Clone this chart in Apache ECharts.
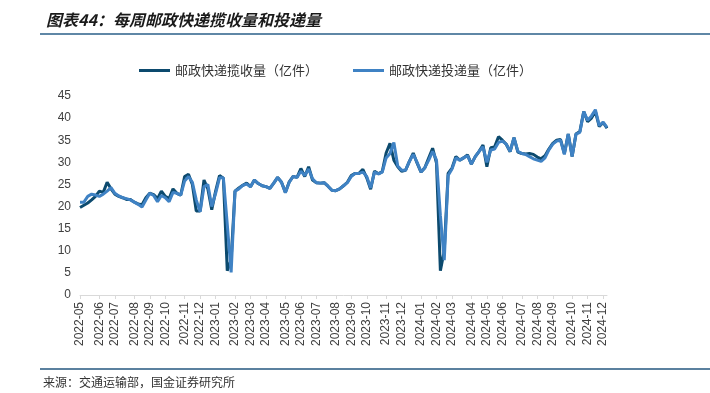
<!DOCTYPE html>
<html>
<head>
<meta charset="utf-8">
<script src="https://cdn.jsdelivr.net/npm/echarts@6/dist/echarts.min.js"></script>
<style>
  html, body { margin: 0; padding: 0; background: #fff; }
  #chart { width: 710px; height: 393px; }
</style>
</head>
<body>
<div id="chart"></div>
<script>
    'use strict';

    // 周数据起点（每周一个点）
    var firstWeek = '2022-05-01';
    var weekCount = 137;

    // 邮政快递揽收量（亿件）
    var pickupData = [
        19.8, 20.3, 20.8, 21.5, 22.3, 23.5, 23.2, 25.5, 24.0, 22.8,
        22.3, 22.0, 21.6, 21.6, 21.0, 20.6, 20.4, 22.0, 23.0, 22.7,
        21.8, 23.5, 22.3, 21.8, 24.0, 23.0, 22.6, 26.8, 27.3, 25.0,
        19.0, 19.0, 26.0, 24.0, 19.3, 23.5, 27.0, 26.4, 5.5, 8.0,
        23.5, 24.2, 24.8, 25.3, 24.5, 26.0, 25.2, 24.7, 24.5, 24.1,
        25.3, 26.6, 25.5, 23.2, 25.6, 26.8, 26.6, 28.6, 26.8, 29.0,
        26.0, 25.4, 25.3, 25.4, 24.6, 23.7, 23.6, 24.0, 24.7, 25.5,
        27.0, 27.5, 27.5, 28.4, 26.5, 23.9, 28.0, 27.4, 27.9, 32.1,
        34.3, 30.5, 29.0, 28.0, 28.2, 30.2, 32.1, 29.8, 27.8, 28.8,
        31.0, 33.2, 29.8, 5.5, 10.0, 27.5, 28.7, 31.3, 30.5, 31.0,
        31.7, 29.6, 31.3, 32.5, 33.9, 29.0, 33.3, 33.5, 35.8, 35.0,
        34.1, 32.4, 35.6, 32.3, 32.0, 31.9, 32.0, 31.8, 31.2, 30.8,
        31.5, 33.0, 34.3, 35.0, 35.2, 32.0, 36.4, 31.3, 36.4, 37.0,
        41.5, 39.2, 40.0, 41.5, 38.1, 39.0, 37.7
    ];

    // 邮政快递投递量（亿件）
    var deliveryData = [
        21.0, 21.0, 22.3, 22.8, 22.6, 22.3, 22.8, 23.5, 24.3, 23.0,
        22.4, 22.0, 21.8, 21.5, 21.0, 20.5, 19.9, 21.5, 23.0, 22.5,
        21.1, 22.5, 22.0, 21.1, 23.2, 23.0, 22.6, 25.8, 26.8, 25.5,
        21.5, 18.8, 24.5, 25.0, 20.0, 23.0, 26.5, 26.5, 16.0, 5.1,
        23.5, 24.0, 24.8, 25.1, 24.5, 26.0, 25.2, 24.7, 24.5, 24.1,
        25.3, 26.6, 25.5, 23.1, 25.5, 26.8, 26.6, 28.0, 27.0, 28.5,
        26.3, 25.4, 25.3, 25.4, 24.6, 23.7, 23.6, 24.0, 24.7, 25.4,
        26.8, 27.5, 27.5, 27.8, 26.8, 24.2, 27.8, 27.4, 27.8, 31.0,
        32.0, 34.5, 29.2, 28.2, 28.2, 30.2, 31.8, 30.0, 27.8, 28.8,
        30.5, 32.5, 30.5, 18.0, 7.9, 27.0, 28.5, 31.0, 30.5, 31.0,
        31.5, 29.6, 31.3, 32.5, 33.5, 30.0, 32.8, 33.0, 34.5, 34.8,
        34.1, 32.5, 35.6, 32.5, 32.0, 31.8, 31.3, 30.8, 30.5, 30.2,
        31.0, 32.8, 34.1, 34.8, 35.0, 31.8, 36.4, 31.3, 36.4, 36.8,
        41.5, 39.5, 40.5, 41.9, 38.3, 39.1, 37.9
    ];

    var yTicks = [0, 5, 10, 15, 20, 25, 30, 35, 40, 45];

    var seriesNames = ['邮政快递揽收量（亿件）', '邮政快递投递量（亿件）'];
    var seriesColors = ['#0c4a6e', '#3f82c4'];

    // 周日期（日历）
    var weeks = [];
    var d0 = new Date(firstWeek + 'T00:00:00Z');
    for (var i = 0; i < weekCount; i++) {
        var d = new Date(d0.getTime() + i * 7 * 86400000);
        weeks.push(d.toISOString().slice(0, 10));
    }

    // 每月第一周显示月份标签
    function isMonthStart(index, value) {
        return parseInt(value.slice(8, 10), 10) <= 7;
    }

    var chart = echarts.init(document.getElementById('chart'));
    var cjk = '"Noto Sans CJK SC", sans-serif';
    var latin = '"Liberation Sans", Arial, sans-serif';

    chart.setOption({
        backgroundColor: '#fff',
        animation: false,
        title: {
            text: '图表44：每周邮政快递揽收量和投递量',
            left: 41,
            top: 7,
            textStyle: {
                fontFamily: cjk,
                fontSize: 16,
                fontWeight: 'bold',
                fontStyle: 'italic',
                color: '#1a1a1a'
            }
        },
        legend: {
            left: 134,
            top: 59,
            itemGap: 35,
            itemWidth: 31,
            itemHeight: 3,
            icon: 'rect',
            textStyle: { fontFamily: cjk, fontSize: 13, color: '#333' },
            data: seriesNames
        },
        grid: { left: 80, right: 103, top: 96, bottom: 98 },
        xAxis: {
            type: 'category',
            boundaryGap: false,
            data: weeks,
            axisLine: { lineStyle: { color: '#d9d9d9', width: 1 } },
            axisTick: { show: true, interval: isMonthStart, length: 4, lineStyle: { color: '#d9d9d9' } },
            axisLabel: {
                interval: isMonthStart,
                rotate: 90,
                margin: 7,
                fontFamily: latin,
                fontSize: 12,
                color: '#404040',
                formatter: function (v) { return v.slice(0, 7); }
            }
        },
        yAxis: {
            type: 'value',
            min: yTicks[0],
            max: yTicks[yTicks.length - 1],
            interval: 5,
            axisLine: { show: false },
            axisTick: { show: false },
            splitLine: { show: false },
            axisLabel: { fontFamily: latin, fontSize: 12, color: '#404040', margin: 9 }
        },
        series: [
            {
                name: seriesNames[0],
                type: 'line',
                data: pickupData,
                showSymbol: false,
                color: seriesColors[0],
                lineStyle: { width: 3, color: seriesColors[0] }
            },
            {
                name: seriesNames[1],
                type: 'line',
                data: deliveryData,
                showSymbol: false,
                color: seriesColors[1],
                lineStyle: { width: 3, color: seriesColors[1] }
            }
        ],
        graphic: [
            {
                type: 'line',
                shape: { x1: 40, y1: 34, x2: 710, y2: 34 },
                style: { stroke: '#5f87a6', lineWidth: 2 }
            },
            {
                type: 'line',
                shape: { x1: 40, y1: 369, x2: 710, y2: 369 },
                style: { stroke: '#24577f', lineWidth: 1.5 }
            },
            {
                type: 'text',
                left: 43,
                top: 376,
                style: { text: '来源：交通运输部，国金证券研究所', fontFamily: cjk, fontSize: 12, fill: '#333' }
            }
        ]
    });
</script>
</body>
</html>
